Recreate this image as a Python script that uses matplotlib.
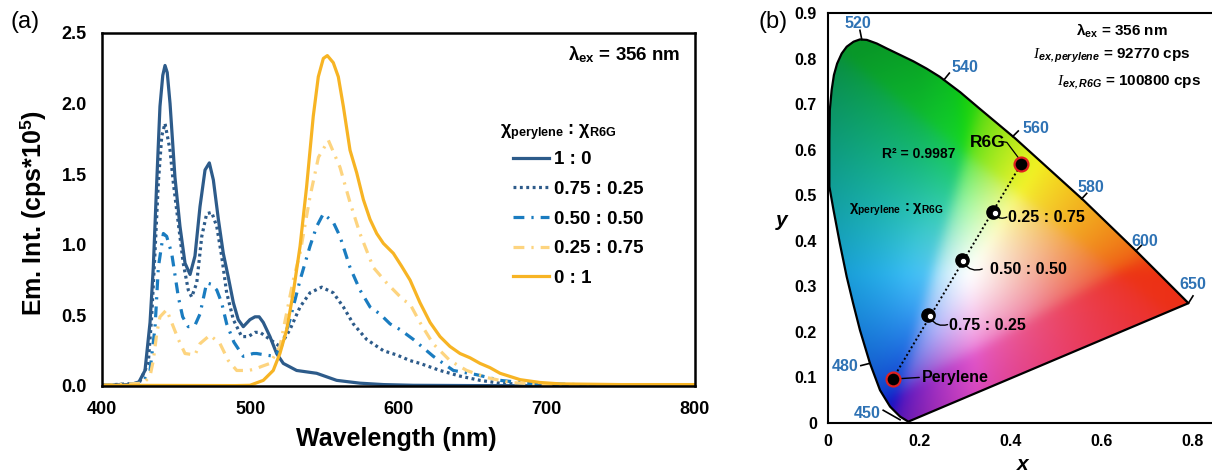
import numpy as np
import matplotlib
matplotlib.use("Agg")
import matplotlib.pyplot as plt
from matplotlib.patches import Polygon
from matplotlib import transforms

plt.rcParams['font.family'] = ['Liberation Sans', 'DejaVu Sans']
plt.rcParams['mathtext.fontset'] = 'custom'
plt.rcParams['mathtext.rm'] = 'Liberation Sans:bold'
plt.rcParams['mathtext.bf'] = 'Liberation Sans:bold'
plt.rcParams['mathtext.it'] = 'Liberation Serif:italic'
plt.rcParams['mathtext.sf'] = 'Liberation Sans:bold:italic'

# ---------------- (a) emission spectra ----------------
wl_10 = [400, 420, 425, 429, 432.4, 434.6, 436.9, 439.1, 441, 442.5, 444, 445.9, 449.2, 452.6,
         456, 459.4, 462.7, 466.1, 469.5, 472.4, 475.1, 478.5, 481.8, 485.2, 488.6, 491.9, 495.3,
         499.8, 503.2, 506, 508.8, 513.3, 517.8, 522.3, 531.3, 544.8, 558.3, 574, 590, 610, 650,
         700, 800]
em_10 = [0.005, 0.01, 0.03, 0.11, 0.45, 0.84, 1.44, 1.98, 2.20, 2.27, 2.22, 2.0, 1.48, 1.13,
         0.87, 0.79, 0.92, 1.27, 1.53, 1.58, 1.46, 1.18, 0.94, 0.77, 0.59, 0.47, 0.42,
         0.47, 0.49, 0.49, 0.45, 0.35, 0.23, 0.16, 0.11, 0.09, 0.04, 0.02, 0.01, 0.005, 0.003,
         0.002, 0.002]

wl_75 = [400, 425, 431.2, 433.5, 435.8, 438, 440.3, 442.5, 445.9, 448.1, 451.5, 454.8, 458.2,
         460.5, 463.9, 467.3, 470.6, 474, 477.4, 480.7, 484.1, 488.6, 494.2, 498.7, 503.2, 506.6,
         513.3, 520, 526.8, 533.6, 540.3, 548.2, 556, 562.8, 569.5, 578.5, 589.8, 598.8, 607.8,
         614.5, 628, 641.5, 655, 668.5, 690, 730, 800]
em_75 = [0.005, 0.02, 0.16, 0.49, 0.96, 1.44, 1.77, 1.86, 1.67, 1.44, 1.15, 0.87, 0.68,
         0.63, 0.73, 1.06, 1.22, 1.23, 1.13, 0.92, 0.66, 0.47, 0.35, 0.35, 0.38, 0.38,
         0.33, 0.28, 0.40, 0.56, 0.66, 0.70, 0.66, 0.56, 0.44, 0.33, 0.25, 0.22, 0.18,
         0.16, 0.11, 0.07, 0.04, 0.02, 0.01, 0.005, 0.005]

wl_50 = [400, 427, 432.4, 435.8, 438, 441.4, 443.6, 447, 451.5, 454.4, 458.2, 462.7, 466.1,
         470.6, 474, 477.4, 480.7, 484.1, 489, 495.3, 502, 504.4, 510, 516.7, 521, 526.8, 533.6,
         540.3, 544.8, 549.3, 556, 560.5, 567.3, 574, 580.8, 587.5, 594.3, 601, 610, 623.5, 637,
         652.7, 668.5, 686.5, 720, 800]
em_50 = [0.005, 0.02, 0.11, 0.42, 0.84, 1.08, 1.06, 0.94, 0.63, 0.49, 0.42, 0.43, 0.51,
         0.73, 0.72, 0.68, 0.59, 0.44, 0.31, 0.21, 0.23, 0.23, 0.22, 0.21, 0.28, 0.47, 0.75,
         0.99, 1.13, 1.22, 1.16, 1.06, 0.84, 0.68, 0.56, 0.51, 0.44, 0.40, 0.33, 0.21, 0.11,
         0.08, 0.04, 0.02, 0.01, 0.008]

wl_25 = [400, 428, 432.4, 434.6, 436.9, 439.1, 443.6, 448.1, 451.5, 456, 462.7, 466.1, 472.8,
         479.6, 485.2, 490.9, 498.7, 503.2, 508, 513.3, 520, 524.6, 529, 533.6, 540.3, 546,
         552.7, 560.5, 567.3, 574, 583, 592, 603.2, 607.8, 614.5, 623.3, 634.7, 646, 659.5, 675,
         700, 800]
em_25 = [0.005, 0.02, 0.07, 0.18, 0.37, 0.49, 0.54, 0.42, 0.33, 0.23, 0.22, 0.30, 0.36,
         0.30, 0.18, 0.11, 0.11, 0.12, 0.14, 0.16, 0.28, 0.52, 0.75, 0.94, 1.34, 1.62,
         1.74, 1.55, 1.30, 1.08, 0.84, 0.73, 0.61, 0.58, 0.45, 0.30, 0.18, 0.11, 0.06, 0.025,
         0.01, 0.008]

wl_01 = [400, 490, 499.8, 508.8, 515.5, 520, 524.6, 529, 533.6, 538, 542.5, 545.9, 549.3, 552,
         556, 559.4, 562.8, 567.3, 571.8, 576.3, 580.8, 585.3, 589.8, 596.5, 602, 607.8, 614.5,
         621.3, 628, 634.7, 641.5, 648.2, 655, 661.7, 668.5, 682, 695.4, 709, 750, 800]
em_01 = [0.005, 0.003, 0.005, 0.04, 0.11, 0.23, 0.40, 0.66, 0.99, 1.41, 1.91, 2.19, 2.32, 2.34,
         2.29, 2.19, 1.98, 1.67, 1.51, 1.32, 1.18, 1.08, 1.01, 0.94, 0.85, 0.75, 0.59,
         0.45, 0.35, 0.28, 0.23, 0.20, 0.16, 0.13, 0.09, 0.045, 0.025, 0.015, 0.01, 0.01]

ratio_labels = ["1 : 0", "0.75 : 0.25", "0.50 : 0.50", "0.25 : 0.75", "0 : 1"]

# ---------------- (b) CIE chromaticity ----------------
locus_x = [0.176, 0.158, 0.136, 0.114, 0.092, 0.070, 0.055, 0.041, 0.026, 0.012, 0.003, 0.003,
           0.004, 0.008, 0.013, 0.020, 0.030, 0.041, 0.056, 0.070, 0.085, 0.107, 0.129, 0.158,
           0.187, 0.216, 0.245, 0.29, 0.33, 0.41, 0.56, 0.677, 0.79]
locus_y = [0.003, 0.014, 0.036, 0.072, 0.131, 0.204, 0.263, 0.321, 0.394, 0.468, 0.519, 0.621,
           0.687, 0.731, 0.764, 0.789, 0.811, 0.826, 0.837, 0.842, 0.841, 0.833, 0.822, 0.808,
           0.794, 0.778, 0.760, 0.726, 0.692, 0.625, 0.489, 0.376, 0.263]

wl_marks = ["520", "540", "560", "580", "600", "650", "480", "450"]
mark_xy = [(0.074, 0.842), (0.254, 0.753), (0.405, 0.629), (0.556, 0.492), (0.675, 0.378),
           (0.790, 0.263), (0.092, 0.131), (0.158, 0.007)]
mark_end = [(0.070, 0.862), (0.266, 0.768), (0.417, 0.641), (0.567, 0.504), (0.687, 0.390),
            (0.800, 0.279), (0.072, 0.126), (0.121, 0.028)]
mark_lab = [(0.066, 0.878), (0.300, 0.780), (0.455, 0.647), (0.577, 0.516), (0.695, 0.398),
            (0.800, 0.303), (0.037, 0.124), (0.086, 0.021)]

pt_names = ["Perylene", "0.75 : 0.25", "0.50 : 0.50", "0.25 : 0.75", "R6G"]
pt_x = [0.142, 0.220, 0.293, 0.362, 0.423]
pt_y = [0.097, 0.237, 0.358, 0.464, 0.568]

c_dark = "#2d5b8a"
c_mid = "#1a7cc0"
c_light = "#fdd47f"
c_yel = "#f7b424"


def box_blur(img, r):
    # separable box blur along both image axes
    out = img
    for axis in (0, 1):
        pad = [(0, 0)] * out.ndim
        pad[axis] = (r + 1, r)
        p = np.pad(out, pad, mode="edge")
        c = np.cumsum(p, axis=axis)
        n = out.shape[axis]
        hi = np.take(c, np.arange(2 * r + 1, 2 * r + 1 + n), axis=axis)
        lo = np.take(c, np.arange(0, n), axis=axis)
        out = (hi - lo) / (2 * r + 1)
    return out


fig = plt.figure(figsize=(12.12, 4.74), dpi=100)

# ---------------- panel (a) ----------------
ax1 = fig.add_axes([102 / 1212, 88 / 474, 593 / 1212, 353 / 474])
dashdot = (0, (3.4, 2.2, 0.7, 2.2))
ax1.plot(wl_10, em_10, color=c_dark, lw=2.3, label=ratio_labels[0])
ax1.plot(wl_75, em_75, color=c_dark, lw=2.3, ls=(0, (0.9, 1.1)), label=ratio_labels[1])
ax1.plot(wl_50, em_50, color=c_mid, lw=2.3, ls=dashdot, label=ratio_labels[2])
ax1.plot(wl_25, em_25, color=c_light, lw=2.3, ls=dashdot, label=ratio_labels[3])
ax1.plot(wl_01, em_01, color=c_yel, lw=2.3, label=ratio_labels[4])

ax1.set_xlim(400, 800)
ax1.set_ylim(0, 2.5)
ax1.set_xticks([400, 500, 600, 700, 800])
ax1.set_yticks([0, 0.5, 1.0, 1.5, 2.0, 2.5])
ax1.set_yticklabels(["%.1f" % v for v in [0, 0.5, 1.0, 1.5, 2.0, 2.5]])
ax1.tick_params(length=0, pad=11, labelsize=13)
for lab in ax1.get_xticklabels() + ax1.get_yticklabels():
    lab.set_fontweight("bold")
for sp in ax1.spines.values():
    sp.set_linewidth(1.8)
ax1.set_xlabel("Wavelength (nm)", fontsize=18, fontweight="bold", va="center")
ax1.set_ylabel("Em. Int. (cps*10$^{\\mathrm{5}}$)", fontsize=18, fontweight="bold", va="center")
ax1.xaxis.set_label_coords(0.497, -0.15)
ax1.yaxis.set_label_coords(-0.116, 0.49)

ax1.text(0.975, 0.938, "λ$_{\\mathrm{ex}}$ = 356 nm", transform=ax1.transAxes,
         ha="right", va="center", fontsize=13.5, fontweight="bold")

ax1.text((500 - 102) / 593, (386 - 132) / 353, "χ$_{\\mathrm{perylene}}$ : χ$_{\\mathrm{R6G}}$",
         transform=ax1.transAxes, ha="left", va="center", fontsize=13, fontweight="bold")
leg = ax1.legend(loc="upper left", bbox_to_anchor=((513 - 102) / 593, (386 - 151) / 353),
                 frameon=False, prop={"size": 13.5, "weight": "bold"}, handlelength=1.9,
                 handletextpad=0.27, labelspacing=0.67, borderpad=0, borderaxespad=0)

fig.text(25 / 1212, 1 - 22 / 474, "(a)", fontsize=17, ha="center", va="center")
fig.text(773 / 1212, 1 - 22 / 474, "(b)", fontsize=17, ha="center", va="center")

# ---------------- panel (b) ----------------
ax2 = fig.add_axes([828 / 1212, 51 / 474, 386 / 1212, 410 / 474])
ax2.set_xlim(0, 386 / 456.25)
ax2.set_ylim(0, 0.9)

# chromaticity colour background (xyY -> sRGB, softened like a printed diagram)
gx = np.linspace(0.0, 0.85, 460)
gy = np.linspace(0.001, 0.9, 480)
GX, GY = np.meshgrid(gx, gy)
X = GX / GY
Z = (1 - GX - GY) / GY
M = np.array([[3.2406, -1.5372, -0.4986],
              [-0.9689, 1.8758, 0.0415],
              [0.0557, -0.2040, 1.0570]])
lin = np.stack([M[i, 0] * X + M[i, 1] + M[i, 2] * Z for i in range(3)], axis=-1)
ca = lin - np.minimum(lin.min(axis=-1, keepdims=True), 0)
ca = ca / ca.max(axis=-1, keepdims=True)
cb = np.clip(lin, 0, None)
cb = cb / cb.max(axis=-1, keepdims=True)
rgb = 0.3 * ca ** (1 / 2.4) + 0.7 * cb ** (1 / 2.4)
r, g, b = rgb[..., 0], rgb[..., 1], rgb[..., 2]
# push cyan toward sky blue, deep red toward orange-red, magenta toward pink
g = g - 0.3 * (np.minimum(g, b) - np.minimum(np.minimum(r, g), b))
b = b * (1 - 0.6 * np.clip(r - g - b, 0, 1))
g = g + 0.15 * np.clip(r - b, 0, 1) * (1 - g)
pink = np.minimum(r, b) * np.clip(r - g, 0, 1)
g = g + 0.2 * pink * (1 - g)
b = b * (1 - 0.25 * np.clip(r - g, 0, 1))
r = r * (1 - 0.08 * pink)
rgb = np.stack([r, g, b], axis=-1)
dist = np.hypot(GX - 0.325, GY - 0.33)
soft = 0.7 * np.exp(-dist / 0.11)
rgb = rgb * (1 - soft[..., None]) + soft[..., None]
grey = rgb.mean(axis=-1, keepdims=True)
rgb = 0.88 * rgb + 0.12 * grey
shade = 1 - 0.32 * np.clip((dist - 0.15) / 0.4, 0, 1) * np.clip((0.5 - GX) / 0.3, 0, 1)
rgb = np.clip(rgb * shade[..., None], 0, 1)
rgb = box_blur(box_blur(rgb, 6), 6)
im = ax2.imshow(rgb, origin="lower", extent=[gx[0], gx[-1], gy[0], gy[-1]],
                aspect="auto", interpolation="bilinear", zorder=1)
poly = Polygon(np.column_stack([locus_x, locus_y]), closed=True, facecolor="none",
               edgecolor="black", lw=1.6, zorder=2, joinstyle="round")
ax2.add_patch(poly)
im.set_clip_path(poly)

blue_txt = "#2e72b4"
for name, (cx, cy), (ex, ey), (lx, ly) in zip(wl_marks, mark_xy, mark_end, mark_lab):
    ax2.plot([cx, ex], [cy, ey], color="black", lw=1.2, zorder=3)
    ax2.text(lx, ly, name, color=blue_txt, fontsize=11.5, fontweight="bold",
             ha="center", va="center", zorder=4)

# linear fit line through the points
ax2.plot([pt_x[0], pt_x[-1]], [pt_y[0], pt_y[-1]], color="black", lw=1.4,
         ls=(0, (1, 1.3)), zorder=3)

for i in [0, 4]:
    ax2.plot(pt_x[i], pt_y[i], "o", ms=10, mfc="black", mec="#e02020", mew=1.6, zorder=5)
off = transforms.offset_copy(ax2.transData, fig=fig, x=1.5, y=-1.2, units="dots")
for i in [1, 2, 3]:
    ax2.plot(pt_x[i], pt_y[i], "o", ms=9.5, mfc="black", mec="black", zorder=5)
    ax2.plot(pt_x[i], pt_y[i], "o", ms=4.5, mfc="white", mec="black", mew=0.6,
             zorder=6, transform=off)

lab_kw = dict(fontsize=11.5, fontweight="bold", va="center", zorder=6)
line_kw = dict(arrowstyle="-", color="black", lw=1.0, shrinkA=0, shrinkB=0)
ax2.text(0.205, 0.100, pt_names[0], ha="left", **lab_kw)
ax2.annotate("", xy=(pt_x[0] + 0.01, pt_y[0]), xytext=(0.200, 0.100), arrowprops=line_kw, zorder=4)
ax2.text(0.266, 0.215, pt_names[1], ha="left", **lab_kw)
ax2.annotate("", xy=(pt_x[1] + 0.005, pt_y[1] - 0.008), xytext=(0.262, 0.216),
             arrowprops=dict(connectionstyle="arc3,rad=-0.35", **line_kw), zorder=4)
ax2.text(0.355, 0.336, pt_names[2], ha="left", **lab_kw)
ax2.annotate("", xy=(pt_x[2] + 0.005, pt_y[2] - 0.008), xytext=(0.338, 0.338),
             arrowprops=dict(connectionstyle="arc3,rad=-0.35", **line_kw), zorder=4)
ax2.text(0.395, 0.451, pt_names[3], ha="left", **lab_kw)
ax2.annotate("", xy=(pt_x[3] + 0.005, pt_y[3] - 0.008), xytext=(0.392, 0.452),
             arrowprops=dict(connectionstyle="arc3,rad=-0.35", **line_kw), zorder=4)
ax2.text(0.351, 0.615, pt_names[4], ha="center", fontsize=12.5, fontweight="bold",
         va="center", zorder=6)
ax2.plot([0.380, 0.392, pt_x[4] - 0.004], [0.618, 0.616, pt_y[4] + 0.012],
         color="black", lw=0.9, zorder=4)

ax2.text(0.198, 0.590, "R² = 0.9987", ha="center", va="center", fontsize=10,
         fontweight="bold", zorder=6)
ax2.text(0.150, 0.469, "χ$_{\\mathrm{perylene}}$ : χ$_{\\mathrm{R6G}}$", ha="center",
         va="center", fontsize=10.5, fontweight="bold", zorder=6)

ax2.text(0.644, 0.861, "λ$_{\\mathrm{ex}}$ = 356 nm", ha="center", va="center",
         fontsize=11, fontweight="bold")
ax2.text(0.622, 0.806, "$\\mathit{I}_{\\mathsf{ex,perylene}}$ = 92770 cps", ha="center",
         va="center", fontsize=11, fontweight="bold")
ax2.text(0.660, 0.749, "$\\mathit{I}_{\\mathsf{ex,R6G}}$ = 100800 cps", ha="center",
         va="center", fontsize=11, fontweight="bold")

ax2.set_xticks([0, 0.2, 0.4, 0.6, 0.8])
ax2.set_xticklabels(["0", "0.2", "0.4", "0.6", "0.8"])
ax2.set_yticks([0, 0.1, 0.2, 0.3, 0.4, 0.5, 0.6, 0.7, 0.8, 0.9])
ax2.set_yticklabels(["0"] + ["%.1f" % v for v in np.arange(0.1, 0.95, 0.1)])
ax2.tick_params(length=0, pad=8, labelsize=11.5)
for lab in ax2.get_xticklabels() + ax2.get_yticklabels():
    lab.set_fontweight("bold")
for sp in ax2.spines.values():
    sp.set_linewidth(1.5)
ax2.set_xlabel("x", fontsize=15, fontweight="bold", fontstyle="italic", va="center")
ax2.set_ylabel("y", fontsize=15, fontweight="bold", fontstyle="italic", rotation=0,
               ha="center", va="center")
ax2.xaxis.set_label_coords(0.505, -0.102)
ax2.yaxis.set_label_coords(-0.12, 0.495)

fig.savefig("out.png", dpi=100)
